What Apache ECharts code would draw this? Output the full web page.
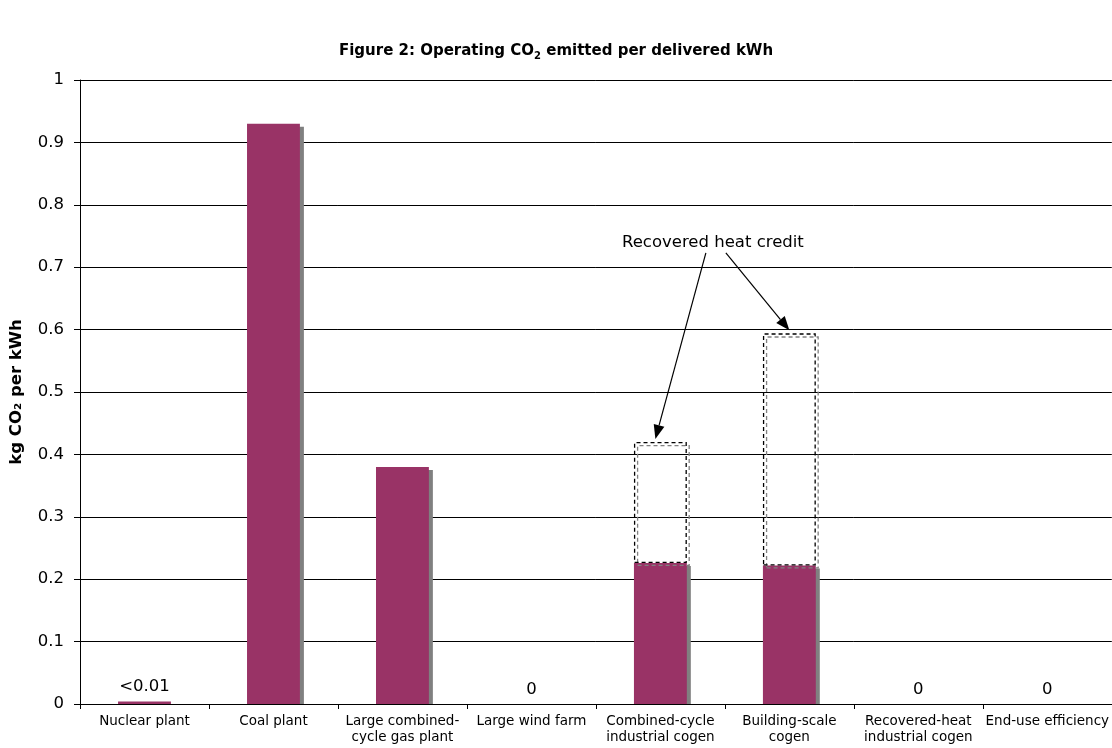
<!DOCTYPE html>
<html><head><meta charset="utf-8">
<script src="https://cdn.jsdelivr.net/npm/echarts@6/dist/echarts.min.js"></script>
<style>html,body{margin:0;padding:0;background:#fff}#c{width:1112px;height:748px}</style>
</head><body><div id="c"></div>
<script>
const categories = ['Nuclear plant', 'Coal plant', 'Large combined-\ncycle gas plant', 'Large wind farm',
  'Combined-cycle\nindustrial cogen', 'Building-scale\ncogen', 'Recovered-heat\nindustrial cogen', 'End-use efficiency'];
const emissions = [0.004, 0.93, 0.38, 0, 0.226, 0.222, 0, 0];
const heatCredit = [null, null, null, null, 0.194, 0.372, null, null];
const valueLabels = ['<0.01', '', '', '0', '', '', '0', '0'];
const yTickLabels = ['0', '0.1', '0.2', '0.3', '0.4', '0.5', '0.6', '0.7', '0.8', '0.9', '1'];
const annotationText = 'Recovered heat credit';
const annotationTargets = [4, 5];
const annotationValue = 0.739;

const FONT = 'DejaVu Sans';
const chart = echarts.init(document.getElementById('c'), null, {renderer: 'canvas'});

const option = {
  backgroundColor: '#fff',
  animation: false,
  textStyle: {fontFamily: FONT, color: '#000'},
  title: {
    text: 'Figure 2: Operating CO{sub|2} emitted per delivered kWh',
    left: 'center', top: 37,
    textStyle: {
      fontFamily: FONT, fontSize: 15, fontWeight: 'bold', color: '#000',
      rich: {sub: {fontFamily: FONT, fontSize: 10, fontWeight: 'bold', color: '#000', padding: [9, 0, 0, 0]}}
    }
  },
  grid: {left: 79, right: 0, top: 80, bottom: 44, containLabel: false},
  xAxis: {
    type: 'category', data: categories, z: 10,
    axisLine: {lineStyle: {color: '#000', width: 1}},
    axisTick: {show: true, length: 5, alignWithLabel: false, lineStyle: {color: '#000'}},
    axisLabel: {interval: 0, fontFamily: FONT, fontSize: 13.5, color: '#000', lineHeight: 16, margin: 9}
  },
  yAxis: {
    type: 'value', min: 0, max: 1, interval: 0.1,
    name: 'kg CO\u2082 per kWh', nameLocation: 'middle', nameRotate: 90, nameGap: 55,
    nameTextStyle: {fontFamily: FONT, fontSize: 16.5, fontWeight: 'bold', color: '#000'},
    axisLine: {show: true, lineStyle: {color: '#000', width: 1}},
    axisTick: {show: true, length: 6, lineStyle: {color: '#000'}},
    splitLine: {show: true, lineStyle: {color: '#000', width: 1}},
    axisLabel: {fontFamily: FONT, fontSize: 16.5, color: '#000', margin: 16,
      formatter: v => yTickLabels[Math.round(v * 10)]}
  },
  series: [
    {
      type: 'bar', name: 'Operating CO2', stack: 'a', data: emissions, barWidth: '41%', z: 2,
      itemStyle: {color: '#993366', shadowColor: '#808080', shadowOffsetX: 4, shadowOffsetY: 3, shadowBlur: 0},
      label: {show: true, position: 'top', distance: 6, fontFamily: FONT, fontSize: 16.5, color: '#000',
        formatter: p => valueLabels[p.dataIndex]}
    },
    {
      type: 'bar', name: 'Recovered heat credit', stack: 'a', data: heatCredit, barWidth: '41%', z: 3,
      itemStyle: {color: 'rgba(0,0,0,0)', borderColor: '#000', borderWidth: 1.3, borderType: [4, 3],
        shadowColor: '#808080', shadowOffsetX: 3, shadowOffsetY: 3, shadowBlur: 0}
    }
  ]
};
chart.setOption(option);

function overlay() {
  const els = [];
  const y0 = chart.convertToPixel({gridIndex: 0}, [0, 0])[1];
  // hide bar shadows below baseline
  emissions.forEach((v, i) => {
    if (v > 0) {
      const cx = chart.convertToPixel({gridIndex: 0}, [i, 0])[0];
      els.push({type: 'rect', z: 5, silent: true, shape: {x: cx - 30, y: y0 + 0.5, width: 64, height: 5},
        style: {fill: '#fff'}});
    }
  });
  const pA = chart.convertToPixel({gridIndex: 0}, [annotationTargets[0], annotationValue]);
  const pB = chart.convertToPixel({gridIndex: 0}, [annotationTargets[1], annotationValue]);
  const tx = (pA[0] + pB[0]) / 2 - 12, ty = pA[1];
  els.push({type: 'text', z: 20, style: {text: annotationText, x: tx, y: ty, align: 'center', verticalAlign: 'middle',
    font: '16.5px "' + FONT + '"', fill: '#000'}});
  const starts = [[tx - 7, ty + 10], [tx + 13, ty + 10]];
  annotationTargets.forEach((ci, k) => {
    const top = emissions[ci] + heatCredit[ci];
    const tip = chart.convertToPixel({gridIndex: 0}, [ci, top]);
    const ex = tip[0] + (k === 0 ? -5 : 0), ey = tip[1] - 3;
    const sx = starts[k][0], sy = starts[k][1];
    const dx = ex - sx, dy = ey - sy, len = Math.hypot(dx, dy);
    const ux = dx / len, uy = dy / len, L = 14, W = 5.5;
    const bx = ex - ux * L, by = ey - uy * L;
    els.push({type: 'line', z: 20, shape: {x1: sx, y1: sy, x2: bx, y2: by}, style: {stroke: '#000', lineWidth: 1.2}});
    els.push({type: 'polygon', z: 20, shape: {points: [[ex, ey], [bx - uy * W, by + ux * W], [bx + uy * W, by - ux * W]]},
      style: {fill: '#000'}});
  });
  chart.setOption({graphic: {elements: els}});
}
overlay();
</script>
</body></html>
